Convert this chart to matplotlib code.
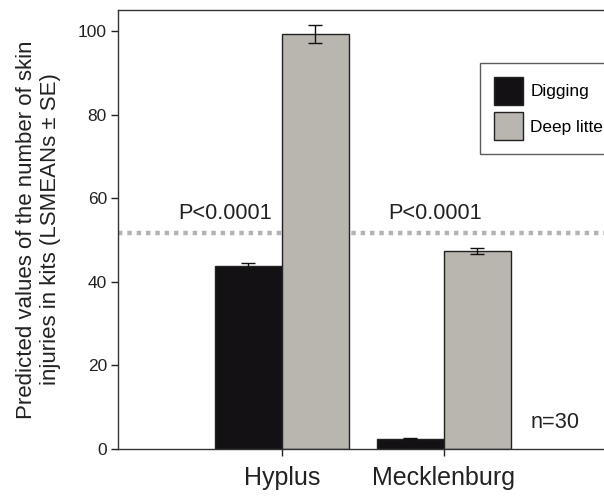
import matplotlib
matplotlib.use("Agg")
import matplotlib.pyplot as plt
import numpy as np

plt.rcParams['font.family'] = ['Liberation Sans', 'DejaVu Sans']

# data
groups = ["Hyplus", "Mecklenburg"]
series = ["Digging", "Deep litter"]
digging = [43.8, 2.5]
digging_se = [0.7, 0.15]
deep_litter = [99.4, 47.4]
deep_litter_se = [2.1, 0.7]
ref_level = 51.7
p_labels = ["P<0.0001", "P<0.0001"]
p_label_x = [0.65, 1.945]
n_label = "n=30"

fig = plt.figure(figsize=(6.04, 4.97), dpi=100)
ax = fig.add_axes([118/604, 1-449/497, 1.0 - 118/604, (449-10)/497])

x = np.arange(1, len(groups) + 1)
w = 0.413

# dotted reference line behind the bars
ax.axhline(ref_level, color='#b4b4b4', lw=3.2, ls=(0, (1, 1.1)), zorder=1)

ax.bar(x - w/2, digging, w, yerr=digging_se, color='#141114', edgecolor='#222222',
       lw=1.0, capsize=5, error_kw=dict(elinewidth=1, capthick=1, ecolor='#111111'),
       label=series[0], zorder=2)
ax.bar(x + w/2, deep_litter, w, yerr=deep_litter_se, color='#b9b5af', edgecolor='#222222',
       lw=1.0, capsize=5, error_kw=dict(elinewidth=1, capthick=1, ecolor='#111111'),
       label=series[1], zorder=2)

for xp, lab in zip(p_label_x, p_labels):
    ax.text(xp, 56.5, lab, ha='center', va='center', fontsize=15.7, color='#222222')

ax.text(2.685, 6.3, n_label, ha='center', va='center', fontsize=15.7, color='#222222')

ax.set_xlim(-0.012, 2.988)
ax.set_ylim(0, 105.1)
ax.set_xticks(x)
ax.set_xticklabels(groups, fontsize=18, color='#222222')
ax.set_yticks([0, 20, 40, 60, 80, 100])
ax.tick_params(axis='y', labelsize=12.5, length=5, width=1, colors='#222222', pad=3)
ax.tick_params(axis='x', length=5, width=1, pad=7, colors='#222222')
ax.spines['right'].set_visible(False)
for s in ['left', 'top', 'bottom']:
    ax.spines[s].set_color('#333333')
    ax.spines[s].set_linewidth(1.0)

ax.set_ylabel("Predicted values of the number of skin\ninjuries in kits (LSMEANs ± SE)",
              fontsize=16, color='#222222', labelpad=12, linespacing=1.2)

leg = fig.legend(loc='upper left', bbox_to_anchor=(480/604, 1 - 63/497),
                 fontsize=12.4, frameon=True, fancybox=False, edgecolor='#333333',
                 handlelength=1.7, handleheight=2.15, handletextpad=0.42,
                 labelspacing=0.4, borderpad=0.8, borderaxespad=0)
leg.get_frame().set_linewidth(1.0)

fig.savefig("out.png", dpi=100)
